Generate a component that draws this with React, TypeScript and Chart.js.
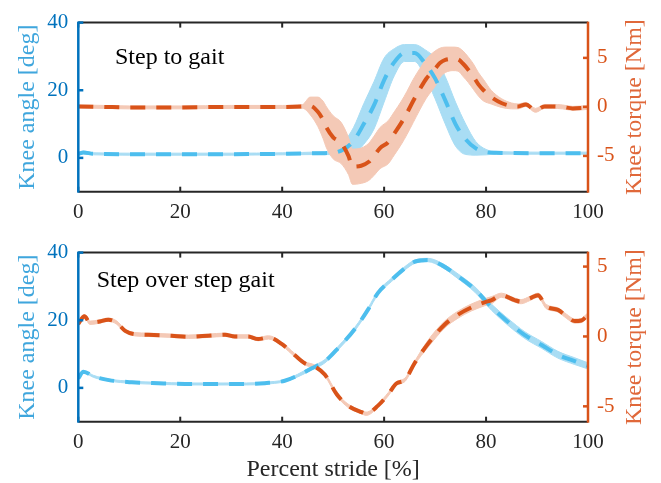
import React, { useEffect, useRef } from "react";
import { Chart, registerables } from "chart.js";

Chart.register(...registerables);

// ---------- tick labels / texts ----------
const strideTicks = [0, 20, 40, 60, 80, 100];
const angleTicks = [0, 20, 40];
const torqueTicks = [-5, 0, 5];
const panelLabels = ["Step to gait", "Step over step gait"];
const angleTitle = "Knee angle [deg]";
const torqueTitle = "Knee torque [Nm]";
const strideTitle = "Percent stride [%]";

// ---------- top panel: step to gait ----------
const topAngleX = [0, 1, 3, 10, 20, 30, 40, 48, 50, 52, 54, 56, 58, 60, 62, 64, 66, 68, 70, 72, 74, 76, 78, 80, 82, 90, 100];
const topAngle = [1.2, 1.6, 1.2, 1.1, 1.1, 1.1, 1.2, 1.4, 1.5, 2.5, 5, 10, 15.5, 23, 28.3, 31, 31, 28, 23.5, 17, 10, 5.5, 2.8, 1.7, 1.5, 1.4, 1.4];
const topAngleSpread = [0.4, 0.4, 0.3, 0.3, 0.3, 0.3, 0.3, 0.4, 0.6, 2, 4, 6, 7, 6.5, 4, 2.5, 2.5, 4, 6, 7, 6.5, 4.5, 2, 0.8, 0.4, 0.3, 0.3];

const topTorqueX = [0, 5, 10, 20, 30, 40, 44, 45.5, 47, 48, 48.7, 50, 51.6, 53, 53.8, 55.5, 57, 58, 59.2, 60.8, 62, 63.4, 64.5, 65.7, 67, 68.3, 70, 71, 72, 73.5, 74.5, 75.5, 76.5, 77.5, 78.5, 79.5, 81, 83, 85, 86.3, 87.8, 89.7, 91.5, 93, 95, 97, 100];
const topTorque = [0.05, 0, -0.05, -0.05, 0, 0, 0.05, 0.1, -0.5, -1.3, -2.1, -3.1, -3.7, -5.0, -6.1, -6.0, -5.6, -5.0, -4.2, -3.6, -2.7, -1.6, -0.6, 0.6, 1.8, 2.9, 3.9, 4.5, 4.8, 4.9, 4.85, 4.4, 3.8, 3.1, 2.3, 1.7, 1.0, 0.4, 0.1, 0.05, 0.25, -0.35, 0.05, 0.05, 0, -0.15, -0.05];
const topTorqueSpread = [0.15, 0.15, 0.15, 0.15, 0.15, 0.15, 0.2, 0.9, 1.5, 1.9, 2.1, 2.2, 2.1, 1.9, 1.8, 1.8, 1.9, 2.0, 2.1, 2.2, 2.2, 2.2, 2.2, 2.2, 2.1, 2.0, 1.8, 1.5, 1.3, 1.2, 1.2, 1.3, 1.3, 1.3, 1.2, 1.1, 0.7, 0.45, 0.3, 0.25, 0.2, 0.2, 0.2, 0.2, 0.2, 0.2, 0.2];

// ---------- bottom panel: step over step gait ----------
const botAngleX = [0, 1, 3, 6, 10.5, 15.7, 21, 27, 33, 36.6, 40.5, 43, 45.8, 48.4, 51, 54.3, 56.9, 58.8, 61.5, 64.1, 66, 68.6, 71.3, 74.5, 77.8, 81.1, 84.3, 87.6, 90.9, 94.1, 97.4, 100];
const botAngle = [2.8, 4.8, 3.4, 2.3, 1.65, 1.36, 1.16, 1.15, 1.16, 1.4, 2.1, 3.6, 5.8, 7.9, 11.8, 17.5, 23.3, 28.1, 32, 35.4, 37.3, 37.8, 36.3, 33, 29.1, 23.8, 19.5, 15.6, 12.7, 9.8, 7.9, 6.5];
const botAngleSpread = [0.3, 0.3, 0.3, 0.3, 0.3, 0.3, 0.3, 0.3, 0.3, 0.3, 0.3, 0.4, 0.5, 0.5, 0.5, 0.5, 0.5, 0.5, 0.5, 0.5, 0.5, 0.5, 0.6, 0.7, 0.8, 0.9, 1.0, 1.0, 1.0, 1.0, 1.0, 0.9];

const botTorqueX = [0, 1.2, 2.3, 3.9, 5.9, 7.5, 9.2, 11.1, 13.7, 18.3, 21.6, 25.5, 28.8, 30.7, 33.3, 35.3, 37.3, 39.9, 42.5, 44.5, 46.4, 48.4, 50.7, 52.9, 55.6, 56.5, 58.8, 60.8, 62.4, 64.1, 66, 68.6, 71.9, 74.5, 77.1, 79.7, 81.1, 83, 85.6, 86.9, 88.6, 90.2, 91.8, 94.1, 95.8, 97.4, 98.7, 100];
const botTorque = [0.9, 1.44, 0.98, 1.05, 1.2, 1.0, 0.4, 0.16, 0.12, 0.05, -0.02, 0.05, 0.12, 0, 0, -0.19, -0.07, -0.53, -1.35, -1.93, -2.16, -2.74, -4.14, -4.95, -5.42, -5.53, -4.95, -4.14, -3.37, -3.1, -1.9, -0.53, 0.86, 1.56, 2.07, 2.44, 2.6, 2.95, 2.6, 2.49, 2.72, 2.95, 2.14, 1.9, 1.44, 1.1, 1.14, 1.56];
const botTorqueSpread = [0.12, 0.12, 0.12, 0.12, 0.12, 0.12, 0.12, 0.12, 0.12, 0.12, 0.12, 0.12, 0.12, 0.12, 0.12, 0.12, 0.12, 0.12, 0.12, 0.12, 0.12, 0.12, 0.12, 0.12, 0.12, 0.12, 0.12, 0.12, 0.12, 0.12, 0.12, 0.25, 0.25, 0.25, 0.25, 0.25, 0.25, 0.15, 0.15, 0.15, 0.15, 0.15, 0.15, 0.15, 0.15, 0.15, 0.15, 0.15];

// ---------- styles ----------
const BLUE_LINE = "#4DBEEE";
const BLUE_BAND = "#A9DDF4";
const RED_LINE = "#D95319";
const RED_BAND = "#F4C9B6";
const LEFT_AXIS = "#0072BD";
const LEFT_TITLE = "#3FA6DD";
const RIGHT_AXIS = "#D95319";
const RIGHT_TITLE = "#E0683A";
const FRAME = "#262626";
const FONT = "'Liberation Serif', 'Times New Roman', serif";
const TICK_SIZE = 21;
const TITLE_SIZE = 24;

const W = 661;

type Panel = {
  angleX: number[]; angle: number[]; angleSpread: number[];
  torqueX: number[]; torque: number[]; torqueSpread: number[];
  torqueMin: number; torqueMax: number;
  label: string; labelAt: [number, number];
  showXTitle: boolean;
  canvasTop: number; canvasHeight: number; padTop: number; xAxisHeight: number;
};

const panels: Panel[] = [
  {
    angleX: topAngleX, angle: topAngle, angleSpread: topAngleSpread,
    torqueX: topTorqueX, torque: topTorque, torqueSpread: topTorqueSpread,
    torqueMin: -8.65, torqueMax: 8.6,
    label: panelLabels[0], labelAt: [7.2, 27.7],
    showXTitle: false,
    canvasTop: 0, canvasHeight: 230, padTop: 17.3, xAxisHeight: 38.3,
  },
  {
    angleX: botAngleX, angle: botAngle, angleSpread: botAngleSpread,
    torqueX: botTorqueX, torque: botTorque, torqueSpread: botTorqueSpread,
    torqueMin: -6.1, torqueMax: 6.0,
    label: panelLabels[1], labelAt: [3.6, 29.7],
    showXTitle: true,
    canvasTop: 230, canvasHeight: 253, padTop: 18.3, xAxisHeight: 61.3,
  },
];

const pts = (xs: number[], ys: number[]) => xs.map((x, i) => ({ x, y: ys[i] }));
const edge = (xs: number[], ys: number[], sp: number[], s: number) =>
  xs.map((x, i) => ({ x, y: ys[i] + s * sp[i] }));

function makeFramePlugin(p: Panel) {
  return {
    id: "frame",
    afterDraw(chart: any) {
      const { ctx, chartArea, scales } = chart;
      const { left, right, top, bottom } = chartArea;
      const line = (x1: number, y1: number, x2: number, y2: number) => {
        ctx.beginPath(); ctx.moveTo(x1, y1); ctx.lineTo(x2, y2); ctx.stroke();
      };
      ctx.save();
      ctx.lineCap = "butt";
      ctx.strokeStyle = FRAME;
      ctx.lineWidth = 2;
      line(left, top, right, top);
      line(left, bottom, right, bottom);
      strideTicks.forEach((v) => {
        const px = scales.x.getPixelForValue(v);
        line(px, top, px, top + 5);
        line(px, bottom, px, bottom - 5);
      });
      ctx.strokeStyle = LEFT_AXIS;
      ctx.lineWidth = 2.5;
      line(left, top - 1, left, bottom + 1);
      angleTicks.forEach((v) => {
        const py = scales.y.getPixelForValue(v);
        line(left, py, left + 5, py);
      });
      ctx.strokeStyle = RIGHT_AXIS;
      line(right, top - 1, right, bottom + 1);
      torqueTicks.forEach((v) => {
        const py = scales.y1.getPixelForValue(v);
        line(right, py, right - 5, py);
      });

      // panel label
      ctx.fillStyle = "#000";
      ctx.font = `${TITLE_SIZE}px ${FONT}`;
      ctx.textAlign = "left";
      ctx.textBaseline = "alphabetic";
      ctx.fillText(p.label, scales.x.getPixelForValue(p.labelAt[0]), scales.y.getPixelForValue(p.labelAt[1]));

      // axis titles
      const mid = (top + bottom) / 2;
      ctx.save();
      ctx.translate(34, mid);
      ctx.rotate(-Math.PI / 2);
      ctx.textAlign = "center";
      ctx.fillStyle = LEFT_TITLE;
      ctx.fillText(angleTitle, 0, 0);
      ctx.restore();
      ctx.save();
      ctx.translate(641, mid);
      ctx.rotate(-Math.PI / 2);
      ctx.textAlign = "center";
      ctx.fillStyle = RIGHT_TITLE;
      ctx.fillText(torqueTitle, 0, 0);
      ctx.restore();
      if (p.showXTitle) {
        ctx.fillStyle = FRAME;
        ctx.textAlign = "center";
        ctx.fillText(strideTitle, (left + right) / 2, bottom + 54.3);
      }
      ctx.restore();
    },
  };
}

function PanelChart({ p }: { p: Panel }) {
  const ref = useRef<HTMLCanvasElement>(null);
  useEffect(() => {
    const bandStyle = (c: string) => ({
      borderColor: c, backgroundColor: c, borderWidth: 1, pointRadius: 0,
      cubicInterpolationMode: "monotone" as const,
    });
    const lineStyle = (c: string) => ({
      borderColor: c, borderWidth: 4, borderDash: [15, 11], borderCapStyle: "butt" as const,
      pointRadius: 0, fill: false, cubicInterpolationMode: "monotone" as const,
    });
    const chart = new Chart(ref.current!, {
      type: "line",
      data: {
        datasets: [
          { ...bandStyle(BLUE_BAND), data: edge(p.angleX, p.angle, p.angleSpread, -1), yAxisID: "y", fill: false, order: 5 },
          { ...bandStyle(BLUE_BAND), data: edge(p.angleX, p.angle, p.angleSpread, 1), yAxisID: "y", fill: "-1", order: 5 },
          { ...bandStyle(RED_BAND), data: edge(p.torqueX, p.torque, p.torqueSpread, -1), yAxisID: "y1", fill: false, order: 4 },
          { ...bandStyle(RED_BAND), data: edge(p.torqueX, p.torque, p.torqueSpread, 1), yAxisID: "y1", fill: "-1", order: 4 },
          { ...lineStyle(BLUE_LINE), data: pts(p.angleX, p.angle), yAxisID: "y", order: 2 },
          { ...lineStyle(RED_LINE), data: pts(p.torqueX, p.torque), yAxisID: "y1", order: 1 },
        ],
      },
      options: {
        animation: false,
        responsive: false,
        devicePixelRatio: 1,
        events: [],
        layout: { padding: { top: p.padTop, left: 0, right: 0, bottom: 0 } },
        plugins: { legend: { display: false }, tooltip: { enabled: false }, title: { display: false } },
        scales: {
          x: {
            type: "linear", min: 0, max: 100,
            grid: { display: false, drawTicks: false }, border: { display: false },
            ticks: { font: { family: FONT, size: TICK_SIZE }, color: FRAME, padding: 8, maxRotation: 0 },
            afterBuildTicks: (s: any) => { s.ticks = strideTicks.map((value) => ({ value })); },
            afterFit: (s: any) => { s.height = p.xAxisHeight; },
          },
          y: {
            type: "linear", position: "left", min: -10, max: 40,
            grid: { display: false, drawTicks: false }, border: { display: false },
            ticks: { font: { family: FONT, size: TICK_SIZE }, color: LEFT_AXIS, padding: 10 },
            afterBuildTicks: (s: any) => { s.ticks = angleTicks.map((value) => ({ value })); },
            afterFit: (s: any) => { s.width = 78.3; },
          },
          y1: {
            type: "linear", position: "right", min: p.torqueMin, max: p.torqueMax,
            grid: { display: false, drawTicks: false }, border: { display: false },
            ticks: { font: { family: FONT, size: TICK_SIZE }, color: RIGHT_AXIS, padding: 9 },
            afterBuildTicks: (s: any) => { s.ticks = torqueTicks.map((value) => ({ value })); },
            afterFit: (s: any) => { s.width = W - 588; },
          },
        },
      } as any,
      plugins: [makeFramePlugin(p)],
    });
    return () => chart.destroy();
  }, [p]);
  return (
    <canvas
      ref={ref}
      width={W}
      height={p.canvasHeight}
      style={{ position: "absolute", left: 0, top: p.canvasTop, width: W, height: p.canvasHeight, display: "block" }}
    />
  );
}

export default function App() {
  return (
    <div style={{ position: "fixed", left: 0, top: 0, width: W, height: 483, background: "#fff", overflow: "hidden" }}>
      {panels.map((p, i) => (
        <PanelChart key={i} p={p} />
      ))}
    </div>
  );
}
